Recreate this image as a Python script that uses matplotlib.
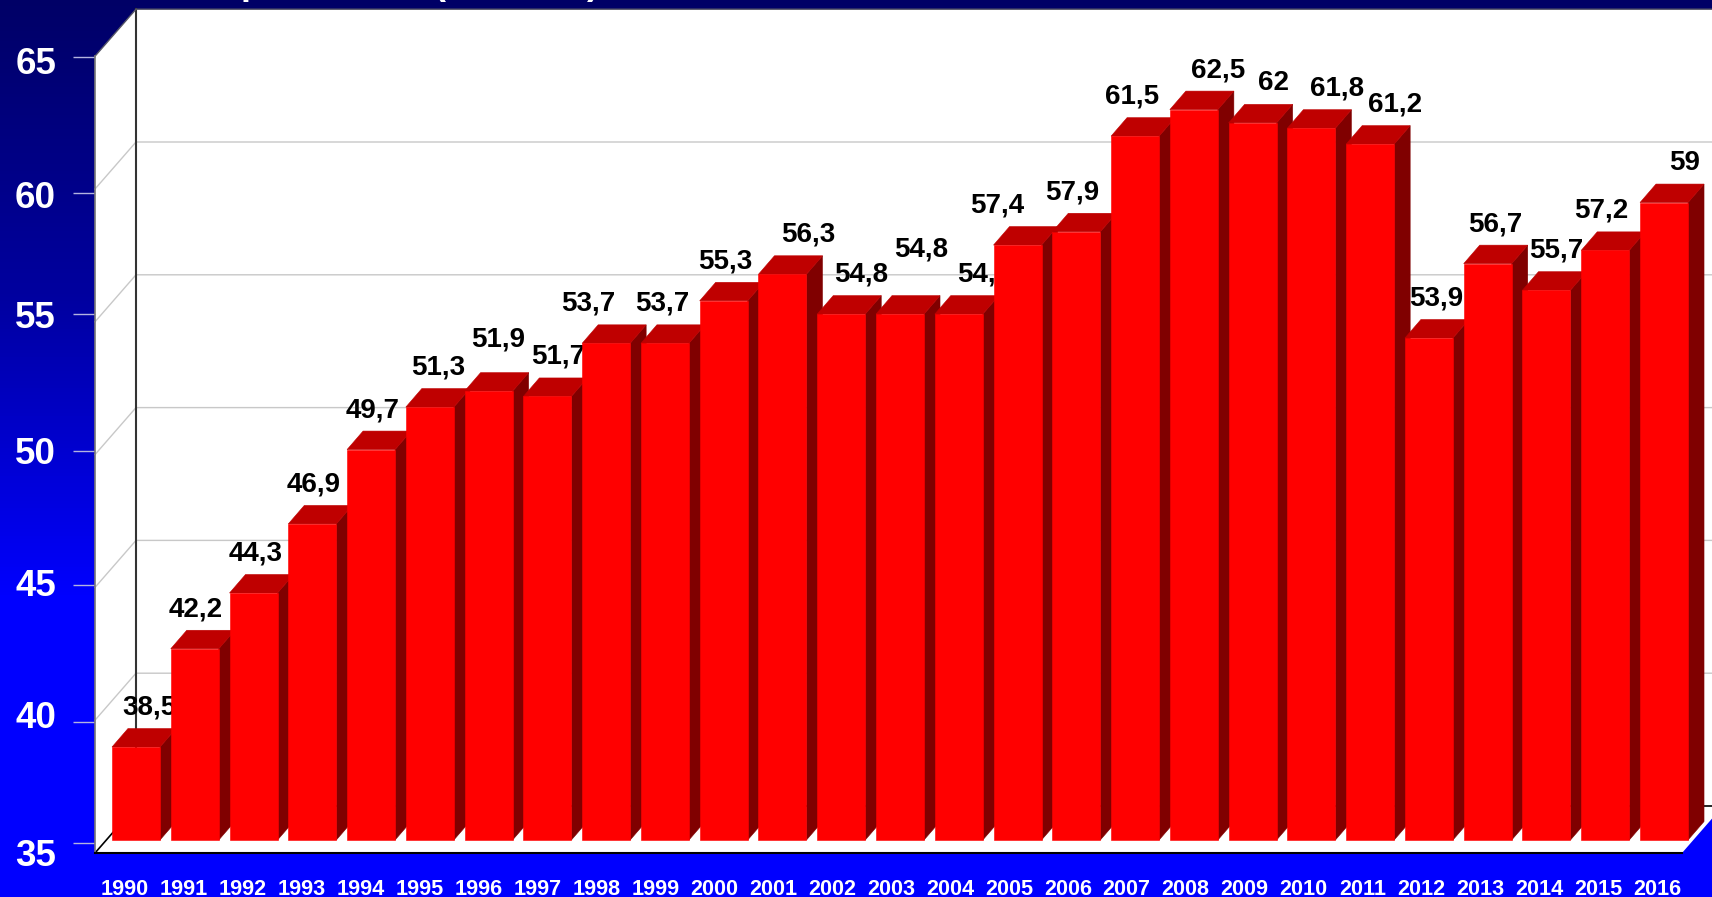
import numpy as np
import matplotlib
matplotlib.use("Agg")
import matplotlib.pyplot as plt
from matplotlib.patches import Polygon
from matplotlib.transforms import ScaledTranslation

plt.rcParams['font.family'] = ['Liberation Sans', 'DejaVu Sans']
plt.rcParams['font.weight'] = 'bold'

years = list(range(1990, 2017))
values = [38.5, 42.2, 44.3, 46.9, 49.7, 51.3, 51.9, 51.7, 53.7, 53.7, 55.3, 56.3, 54.8, 54.8,
          54.8, 57.4, 57.9, 61.5, 62.5, 62, 61.8, 61.2, 53.9, 56.7, 55.7, 57.2, 59]
y_ticks = [35, 40, 45, 50, 55, 60, 65]

# label placement around each bar top, in pixels
label_dx = [13.6, 0.6, 2, 1, 1.2, 7.9, 9.3, 10.5, -17.7, -2.2, 1.2, 25.4, 20.2, 21.5, 25, -20.8,
            -4.1, -2.9, 24.6, 20.4, 26.1, 25.1, 6.8, 8, 9.3, -3.6, 20.7]
label_dy = [39.5, 39.5, 39.5, 39.5, 39.5, 39.5, 51.5, 39.5, 39.5, 39.5, 39.5, 39.5, 39.5, 64.5,
            39.5, 39.5, 39.5, 39.5, 39.5, 39.5, 39.5, 39.5, 39.5, 39.5, 39.5, 39.5, 39.5]
# the source ticks are a bit uneven, pixels down from the regular spot
tick_nudge = [3, 14.8, 10.6, 9.4, 5.2, 17, 13.8]
tick_label_nudge = [9, -7, -3, -1, 0, 1, 4]

W, H = 1712, 897
PX_YEAR = 58.77   # pixels per year
PX_UNIT = 26.56   # pixels per value unit
X0, Y0 = 136, 840  # pixel of 1990 bar centre / of the value 35 on the bars


def dx(px):
    return px / PX_YEAR


def dy(px):
    return px / PX_UNIT


fig = plt.figure(figsize=(W / 100, H / 100), dpi=100)
ax = fig.add_axes([0, 0, 1, 1])
ax.set_xlim(1990 - X0 / PX_YEAR, 1990 + (W - X0) / PX_YEAR)
ax.set_ylim(35 - (H - Y0) / PX_UNIT, 35 + Y0 / PX_UNIT)
ax.patch.set_visible(False)

# background gradient
grad = np.linspace(0, 1, 256).reshape(-1, 1)
cmap = matplotlib.colors.LinearSegmentedColormap.from_list(
    "bg", ["#000066", "#0000a0", "#0000ff", "#0000ff"], N=256)
ax.imshow(grad, cmap=cmap, aspect='auto', extent=[*ax.get_xlim(), ax.get_ylim()[0], ax.get_ylim()[1]],
          origin='upper', zorder=0)

# the title is cut off by the image edge, only these descenders still show
for ch, px in [("p", 252), ("(", 439), (")", 593)]:
    ax.annotate(ch, xy=(px, H + 6), xycoords='figure pixels', ha='center', va='baseline',
                fontsize=26, fontweight='bold', color='white', annotation_clip=False)

# box geometry: front plane, and the wall behind it
x_left = 1990 + dx(95 - X0)
x_right = 1990 + dx(1682 - X0)
x_back = 1990 + dx(136 - X0)
x_back_r = 1990 + dx(1723 - X0)
off_y = dy(47)
front = -dy(13)  # front plane sits 13 px under the bars' base
y_bot = 35 + front
y_top = 65 + front

box = Polygon([(x_left, y_bot), (x_left, y_top), (x_back, y_top + off_y), (x_back_r, y_top + off_y),
               (x_back_r, y_bot + off_y), (x_right, y_bot)], closed=True, fc='white', ec='none', zorder=1)
ax.add_patch(box)

# gridlines, back wall and left wall
for t in y_ticks[1:-1]:
    yf = t + front
    ax.plot([x_left, x_back, x_back_r], [yf, yf + off_y, yf + off_y], color='#c8c8c8', lw=1, zorder=1.5)

# box edges
ax.plot([x_back, x_back], [y_bot + off_y, y_top + off_y], color='#333333', lw=1.5, zorder=1.6)
ax.plot([x_left, x_back], [y_bot, y_bot + off_y], color='black', lw=1.2, zorder=1.6)
ax.plot([x_back, x_back_r], [y_bot + off_y, y_bot + off_y], color='black', lw=1.2, zorder=1.6)
ax.plot([x_left, x_back, x_back_r], [y_top, y_top + off_y, y_top + off_y], color='#555566', lw=1, zorder=1.6)

# bars, left to right so each one covers the last one's side and label
bar_w = 48 / PX_YEAR
depth_x = dx(16)
depth_y = dy(18.5)
bars = ax.bar(years, [v - 35 for v in values], bottom=35, width=bar_w, color='#ff0000',
              edgecolor='#ff0000', linewidth=0.4)
for i, (yr, v, b) in enumerate(zip(years, values, bars)):
    z = 3 + i
    b.set_zorder(z + 0.2)
    xl, xr = yr - bar_w / 2, yr + bar_w / 2
    ax.add_patch(Polygon([(xr, 35), (xr + depth_x, 35 + depth_y), (xr + depth_x, v + depth_y), (xr, v)],
                         closed=True, fc='#800000', ec='#800000', lw=0.4, zorder=z))
    ax.add_patch(Polygon([(xl, v), (xl + depth_x, v + depth_y), (xr + depth_x, v + depth_y), (xr, v)],
                         closed=True, fc='#bf0000', ec='#bf0000', lw=0.4, zorder=z + 0.1))
    ax.annotate(f"{v:g}".replace('.', ','), xy=(yr, v), xytext=(label_dx[i], label_dy[i]),
                textcoords='offset pixels', ha='center', va='center', fontsize=20, fontweight='bold',
                color='black', zorder=z + 0.3, annotation_clip=False)

# axes: spines moved onto the front plane
for s in ['top', 'right']:
    ax.spines[s].set_visible(False)
ax.spines['left'].set_position(('data', x_left))
ax.spines['left'].set_bounds(y_bot, y_top)
ax.spines['left'].set_color('#777777')
ax.spines['left'].set_linewidth(1.2)
ax.spines['bottom'].set_position(('data', y_bot))
ax.spines['bottom'].set_bounds(x_left, x_right)
ax.spines['bottom'].set_color('black')
ax.spines['bottom'].set_linewidth(1.5)

ax.set_yticks([t - dy(n) for t, n in zip(y_ticks, tick_nudge)], labels=[str(t) for t in y_ticks])
ax.tick_params(axis='y', length=16, width=1, color='#b4b4e0', pad=12, labelsize=26.5, labelcolor='white')
ax.set_xticks(years, labels=[str(y) for y in years])
ax.tick_params(axis='x', length=0, pad=19, labelsize=15.6, labelcolor='white')

for lab, n in zip(ax.get_yticklabels(), tick_label_nudge):
    lab.set_fontweight('bold')
    lab.set_transform(lab.get_transform() + ScaledTranslation(0, -n / 100, fig.dpi_scale_trans))
for i, lab in enumerate(ax.get_xticklabels()):
    lab.set_fontweight('bold')
    lab.set_transform(lab.get_transform() + ScaledTranslation((-11 + 4 * i / 26) / 100, 0, fig.dpi_scale_trans))

fig.savefig("out.png", dpi=100)
